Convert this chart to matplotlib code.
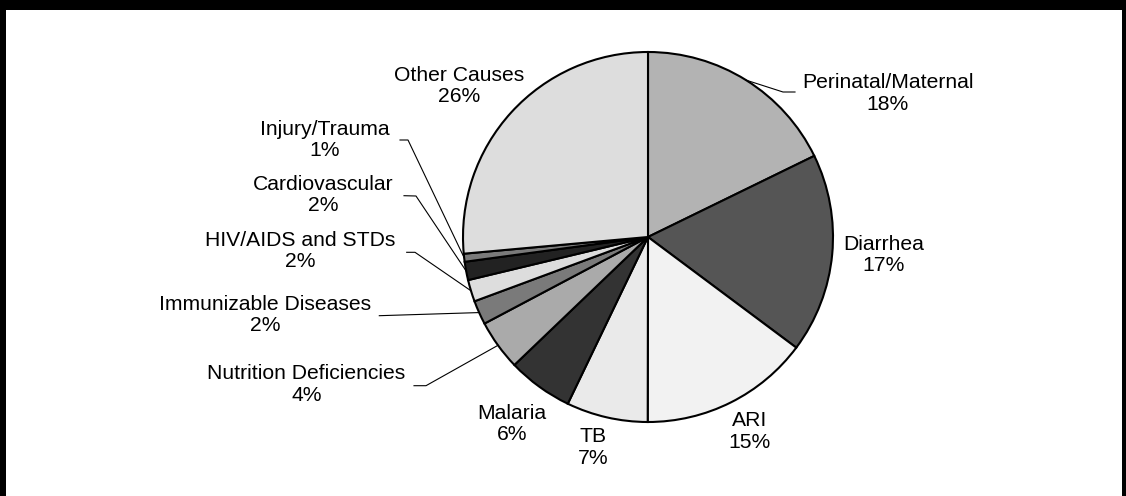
import matplotlib.pyplot as plt
from matplotlib.patches import Rectangle
import numpy as np

# causes of death, clockwise from 12 o'clock
causes = ["Perinatal/Maternal", "Diarrhea", "ARI", "TB", "Malaria",
          "Nutrition Deficiencies", "Immunizable Diseases", "HIV/AIDS and STDs",
          "Cardiovascular", "Injury/Trauma", "Other Causes"]
shares = [17.75, 17.4, 14.8, 7.1, 5.7, 4.4, 2.1, 1.9, 1.6, 0.7, 26.4]
shown_pct = ["18%", "17%", "15%", "7%", "6%", "4%", "2%", "2%", "2%", "1%", "26%"]

greys = ["#b3b3b3", "#555555", "#f2f2f2", "#eaeaea", "#333333", "#aaaaaa",
         "#7a7a7a", "#dddddd", "#222222", "#7a7a7a", "#dddddd"]

# pixel layout of the picture (center and radius of the pie)
W, H = 1126, 496
CX, CY, R = 648, 237, 185

def px(x, y):
    return (x - CX) / R, (CY - y) / R

# label centers (pixels)
label_pos = [(888, 93.5), (884, 255), (750, 431.5), (593, 447.5), (512, 424),
             (306.5, 384.5), (265, 315), (300, 251), (323, 195), (325, 140),
             (459, 86)]
# leader lines: text-side points (pixels)
leaders = {0: [(795, 92), (783, 92)],
           5: [(414, 385.7), (426, 385.7)],
           6: [(379.3, 315.7)],
           7: [(406.7, 252.3), (415, 252.3)],
           8: [(404, 195.7), (416, 196)],
           9: [(400, 140), (408, 140)]}

plt.rcParams['font.family'] = ['Liberation Sans', 'DejaVu Sans']

fig = plt.figure(figsize=(W / 100, H / 100), dpi=100, facecolor='white')
ax = fig.add_axes([0, 0, 1, 1])

wedges, _ = ax.pie(shares, colors=greys, startangle=90, counterclock=False,
                   radius=1, center=(0, 0),
                   wedgeprops=dict(edgecolor='black', linewidth=1.5))
ax.set_aspect('equal')
ax.set_xlim(-CX / R, (W - CX) / R)
ax.set_ylim(-(H - CY) / R, CY / R)
ax.axis('off')

for i, w in enumerate(wedges):
    x, y = px(*label_pos[i])
    ax.text(x, y, causes[i] + "\n" + shown_pct[i], ha='center', va='center',
            fontsize=15.2, linespacing=1.15)
    if i in leaders:
        mid = np.deg2rad((w.theta1 + w.theta2) / 2)
        pts = [px(*p) for p in leaders[i]] + [(np.cos(mid), np.sin(mid))]
        xs, ys = zip(*pts)
        ax.plot(xs, ys, color='black', linewidth=0.8)

# black band on top and the two side borders
fig.patches.append(Rectangle((0, 1 - 10 / H), 1, 10 / H, transform=fig.transFigure,
                             facecolor='black', edgecolor='none', zorder=10))
fig.patches.append(Rectangle((0, 0), 6 / W, 1, transform=fig.transFigure,
                             facecolor='black', edgecolor='none', zorder=10))
fig.patches.append(Rectangle((1 - 4 / W, 0), 4 / W, 1, transform=fig.transFigure,
                             facecolor='black', edgecolor='none', zorder=10))

fig.savefig('out.png', dpi=100, facecolor='white')
